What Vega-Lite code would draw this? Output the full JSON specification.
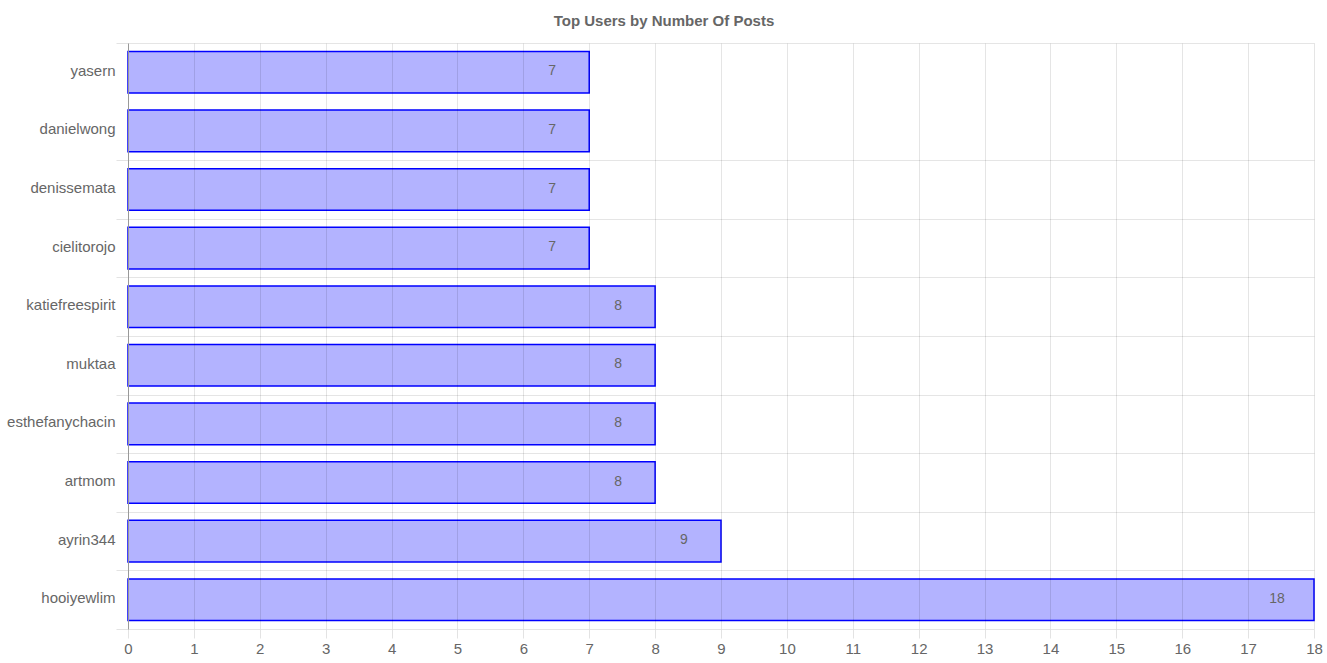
{
  "$schema": "https://vega.github.io/schema/vega-lite/v6.json",
  "width": 1186,
  "height": 586,
  "autosize": {"type": "none"},
  "padding": {"left": 128, "top": 43, "right": 13, "bottom": 34},
  "background": "white",
  "config": {"view": {"stroke": null}, "font": "Liberation Sans"},
  "title": {
    "text": "Top Users by Number Of Posts",
    "fontSize": 15,
    "font": "Liberation Sans",
    "fontWeight": "bold",
    "color": "#666666",
    "anchor": "middle",
    "dx": -57,
    "offset": 7
  },
  "data": {
    "values": [
      {"user": "yasern", "posts": 7},
      {"user": "danielwong", "posts": 7},
      {"user": "denissemata", "posts": 7},
      {"user": "cielitorojo", "posts": 7},
      {"user": "katiefreespirit", "posts": 8},
      {"user": "muktaa", "posts": 8},
      {"user": "esthefanychacin", "posts": 8},
      {"user": "artmom", "posts": 8},
      {"user": "ayrin344", "posts": 9},
      {"user": "hooiyewlim", "posts": 18}
    ]
  },
  "encoding": {
    "y": {
      "field": "user",
      "type": "nominal",
      "sort": ["yasern", "danielwong", "denissemata", "cielitorojo", "katiefreespirit", "muktaa", "esthefanychacin", "artmom", "ayrin344", "hooiyewlim"],
      "scale": {"paddingInner": 0, "paddingOuter": 0},
      "axis": {
        "title": null,
        "tickBand": "extent",
        "grid": true,
        "gridColor": "#000000",
        "gridOpacity": {"condition": {"test": "datum.value === 'yasern'", "value": 0}, "value": 0.1},
        "tickOpacity": {"condition": {"test": "datum.value === 'yasern'", "value": 0}, "value": 1},
        "tickColor": "#e3e3e3",
        "tickSize": 12,
        "labelPadding": 1,
        "labelOffset": -2,
        "labelFontSize": 15,
        "labelColor": "#666666",
        "labelFont": "Liberation Sans",
        "domainColor": "#999999",
        "zindex": 1
      }
    },
    "x": {
      "field": "posts",
      "type": "quantitative",
      "scale": {"domain": [0, 18], "nice": false},
      "axis": {
        "title": null,
        "values": [0, 1, 2, 3, 4, 5, 6, 7, 8, 9, 10, 11, 12, 13, 14, 15, 16, 17, 18],
        "grid": true,
        "gridColor": "#000000",
        "gridOpacity": 0.1,
        "tickColor": "#e3e3e3",
        "tickSize": 9,
        "labelPadding": 3,
        "labelFontSize": 15,
        "labelColor": "#666666",
        "labelFont": "Liberation Sans",
        "labelFlush": false,
        "domain": false,
        "zindex": 1
      }
    }
  },
  "layer": [
    {"mark": {"type": "bar", "height": {"band": 0.71}, "fill": "#b3b3ff", "stroke": "#0000ff", "strokeWidth": 1.5}},
    {
      "mark": {"type": "text", "dx": -37, "dy": -1, "align": "center", "baseline": "middle", "fontSize": 14, "color": "#666666", "font": "Liberation Sans"},
      "encoding": {"text": {"field": "posts", "type": "quantitative"}}
    }
  ]
}
